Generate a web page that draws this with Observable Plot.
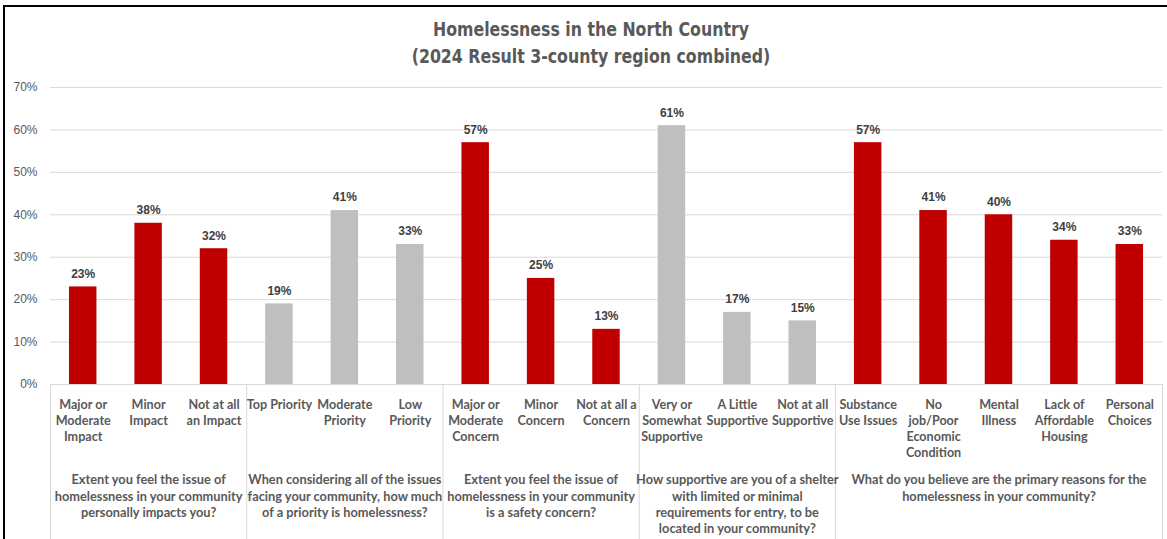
<!DOCTYPE html>
<html>
<head>
<meta charset="utf-8">
<script src="https://cdn.jsdelivr.net/npm/d3@7"></script>
<script src="https://cdn.jsdelivr.net/npm/@observablehq/plot@0.6"></script>
<style>
  html, body { margin: 0; padding: 0; background: #fff; }
  #wrap { position: relative; width: 1167px; height: 539px; overflow: hidden; background: #fff; }
  #frame { position: absolute; left: 3px; top: 5px; width: 1300px; height: 700px; border-top: 2px solid #000; border-left: 2px solid #000; box-sizing: border-box; }
  #title { position: absolute; left: 0; top: 16px; width: 1182px; text-align: center; font-family: "DejaVu Sans", sans-serif; font-stretch: condensed; font-weight: bold; font-size: 20px; line-height: 27px; color: #595959; transform-origin: 591px 0; }
  #title span { white-space: nowrap; }
  #chart { position: absolute; left: 0; top: 70px; }
</style>
</head>
<body>
<div id="wrap">
  <div id="frame"></div>
  <div id="title"><span id="t1">Homelessness in the North Country</span><br><span id="t2">(2024 Result 3-county region combined)</span></div>
  <div id="chart"></div>
</div>
<script>
const categories = [
  "Major or\nModerate\nImpact", "Minor\nImpact", "Not at all\nan Impact",
  "Top Priority", "Moderate\nPriority", "Low\nPriority",
  "Major or\nModerate\nConcern", "Minor\nConcern", "Not at all a\nConcern",
  "Very or\nSomewhat\nSupportive", "A Little\nSupportive", "Not at all\nSupportive",
  "Substance\nUse Issues", "No\njob/Poor\nEconomic\nCondition", "Mental\nIllness", "Lack of\nAffordable\nHousing", "Personal\nChoices"
];
const values = [0.23, 0.38, 0.32, 0.19, 0.41, 0.33, 0.57, 0.25, 0.13, 0.61, 0.17, 0.15, 0.57, 0.41, 0.40, 0.34, 0.33];
const groupIndex = [0, 0, 0, 1, 1, 1, 2, 2, 2, 3, 3, 3, 4, 4, 4, 4, 4];
const groupLabels = [
  "Extent you feel the issue of\nhomelessness in your community\npersonally impacts you?",
  "When considering all of the issues\nfacing your community, how much\nof a priority is homelessness?",
  "Extent you feel the issue of\nhomelessness in your community\nis a safety concern?",
  "How supportive are you of a shelter\nwith limited or minimal\nrequirements for entry, to be\nlocated in your community?",
  "What do you believe are the primary reasons for the\nhomelessness in your community?"
];
const groupCenters = ["Minor\nImpact", "Moderate\nPriority", "Minor\nConcern", "A Little\nSupportive", "Mental\nIllness"];
const groupStarts = ["Major or\nModerate\nImpact", "Top Priority", "Major or\nModerate\nConcern", "Very or\nSomewhat\nSupportive", "Substance\nUse Issues"];
const groupEnd = ["Personal\nChoices"];
const groupColors = ["#C00000", "#BFBFBF", "#C00000", "#BFBFBF", "#C00000"];
const yTicks = [0, 0.1, 0.2, 0.3, 0.4, 0.5, 0.6, 0.7];

const data = categories.map((c, i) => ({category: c, value: values[i], color: groupColors[groupIndex[i]]}));
const groups = groupLabels.map((g, i) => ({label: g, center: groupCenters[i]}));

const W = 1167, H = 469, ML = 50, MR = 5, MT = 17, MB = 155;
const half = (W - ML - MR) / categories.length / 2;
const labelFont = "Lato, 'Open Sans', sans-serif";

const chart = Plot.plot({
  width: W,
  height: H,
  marginLeft: ML,
  marginRight: MR,
  marginTop: MT,
  marginBottom: MB,
  style: {fontFamily: "'Liberation Sans', Arial, sans-serif", fontSize: "12px", color: "#595959", background: "transparent"},
  x: {domain: categories, paddingInner: 0.58, paddingOuter: 0.29, round: false, axis: null},
  y: {domain: [0, 0.7], axis: null},
  marks: [
    Plot.gridY(yTicks, {stroke: "#d9d9d9", strokeOpacity: 1, strokeWidth: 1}),
    Plot.axisY(yTicks, {tickSize: 0, tickPadding: 13, tickFormat: d3.format(".0%"), fill: "#595959", fontSize: 12, label: null}),
    Plot.barY(data, {x: "category", y: "value", fill: "color"}),
    Plot.text(data, {x: "category", y: "value", text: d => d3.format(".0%")(d.value), dy: -13, fontWeight: "bold", fill: "#404040", fontSize: 12}),
    Plot.ruleX(groupStarts, {x: d => d, y1: 0, y2: -0.37, dx: -half, stroke: "#d9d9d9", strokeWidth: 1}),
    Plot.ruleX(groupEnd, {x: d => d, y1: 0, y2: -0.37, dx: half, stroke: "#d9d9d9", strokeWidth: 1}),
    Plot.ruleY([0], {stroke: "#d9d9d9", strokeWidth: 1}),
    Plot.text(data, {x: "category", frameAnchor: "bottom", lineAnchor: "top", dy: 13, text: "category", fontFamily: labelFont, fontWeight: "bold", fontSize: 12.6, lineHeight: 1.28, fill: "#595959"}),
    Plot.text(groups, {x: "center", frameAnchor: "bottom", lineAnchor: "top", dy: 88, text: "label", fontFamily: labelFont, fontWeight: "bold", fontSize: 12.8, lineHeight: 1.28, fill: "#595959"})
  ]
});
document.getElementById("chart").appendChild(chart);

// Fit the title's width to the reference's narrow typeface
const t1 = document.getElementById("t1");
const w1 = t1.getBoundingClientRect().width;
if (w1 > 0) {
  const s = 316 / w1;
  document.getElementById("title").style.transform = `scaleX(${s})`;
}
</script>
</body>
</html>
